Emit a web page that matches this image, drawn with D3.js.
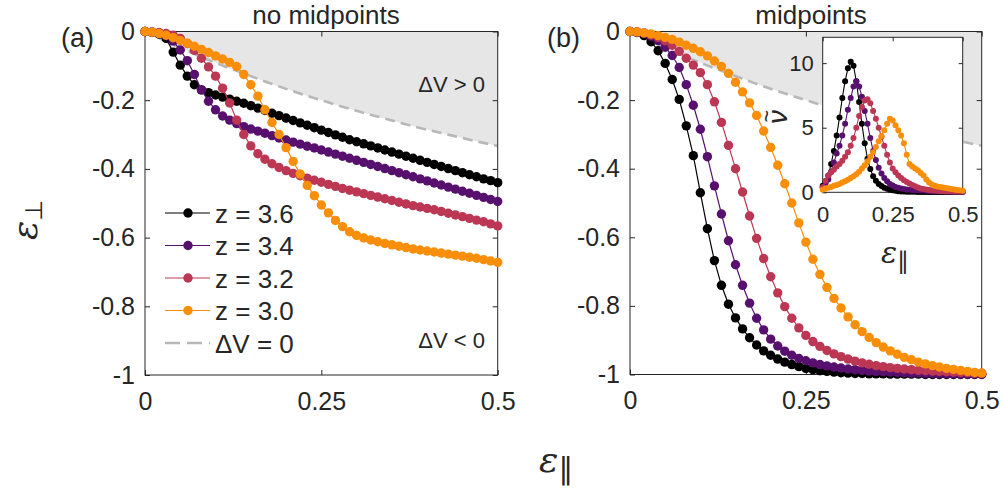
<!DOCTYPE html>
<html><head><meta charset="utf-8">
<script src="https://cdn.jsdelivr.net/npm/d3@7"></script>
<style>
body{margin:0;background:#fff}
svg{display:block}
text{font-family:"Liberation Sans",Arial,Helvetica,sans-serif;fill:#262626}
</style>
</head><body>
<svg id="c" width="1004" height="490"></svg>
<script>
// ---------- data ----------
const epsPar = [0,0.01,0.02,0.03,0.04,0.05,0.06,0.07,0.08,0.09,0.10,0.11,0.12,0.13,0.14,0.15,0.16,0.17,0.18,0.19,0.20,0.21,0.22,0.23,0.24,0.25,0.26,0.27,0.28,0.29,0.30,0.31,0.32,0.33,0.34,0.35,0.36,0.37,0.38,0.39,0.40,0.41,0.42,0.43,0.44,0.45,0.46,0.47,0.48,0.49,0.50];

const seriesLabels = ["z = 3.6","z = 3.4","z = 3.2","z = 3.0"];

// panel (a): no midpoints
const noMid36 = [0,-0.003,-0.008,-0.020,-0.060,-0.098,-0.130,-0.155,-0.170,-0.178,-0.185,-0.191,-0.197,-0.203,-0.209,-0.216,-0.223,-0.230,-0.238,-0.245,-0.252,-0.259,-0.266,-0.273,-0.280,-0.287,-0.294,-0.301,-0.308,-0.315,-0.321,-0.327,-0.333,-0.339,-0.345,-0.351,-0.357,-0.363,-0.369,-0.375,-0.381,-0.387,-0.393,-0.399,-0.405,-0.411,-0.417,-0.423,-0.429,-0.434,-0.440];
const noMid34 = [0,-0.002,-0.006,-0.013,-0.028,-0.054,-0.085,-0.125,-0.170,-0.203,-0.228,-0.246,-0.258,-0.268,-0.277,-0.284,-0.290,-0.296,-0.303,-0.310,-0.316,-0.322,-0.328,-0.334,-0.339,-0.345,-0.351,-0.357,-0.363,-0.369,-0.375,-0.381,-0.387,-0.393,-0.399,-0.405,-0.411,-0.417,-0.423,-0.429,-0.435,-0.441,-0.447,-0.453,-0.459,-0.465,-0.471,-0.477,-0.483,-0.489,-0.495];
const noMid32 = [0,-0.001,-0.003,-0.006,-0.011,-0.020,-0.035,-0.055,-0.078,-0.103,-0.130,-0.165,-0.208,-0.258,-0.300,-0.333,-0.356,-0.372,-0.385,-0.396,-0.405,-0.413,-0.420,-0.427,-0.433,-0.439,-0.445,-0.451,-0.457,-0.462,-0.467,-0.472,-0.477,-0.482,-0.487,-0.492,-0.497,-0.502,-0.507,-0.511,-0.515,-0.519,-0.524,-0.529,-0.534,-0.539,-0.544,-0.549,-0.554,-0.560,-0.566];
const noMid30 = [0,-0.002,-0.006,-0.011,-0.018,-0.026,-0.034,-0.043,-0.052,-0.061,-0.071,-0.080,-0.090,-0.102,-0.125,-0.155,-0.188,-0.228,-0.265,-0.300,-0.338,-0.378,-0.415,-0.448,-0.478,-0.505,-0.528,-0.550,-0.568,-0.583,-0.594,-0.601,-0.607,-0.612,-0.617,-0.621,-0.625,-0.629,-0.633,-0.636,-0.639,-0.642,-0.645,-0.648,-0.651,-0.654,-0.657,-0.660,-0.664,-0.668,-0.672];

// panel (b): midpoints
const mid36 = [0,-0.003,-0.012,-0.030,-0.056,-0.093,-0.140,-0.198,-0.275,-0.362,-0.470,-0.575,-0.668,-0.740,-0.795,-0.835,-0.867,-0.893,-0.914,-0.931,-0.944,-0.955,-0.964,-0.971,-0.977,-0.982,-0.986,-0.989,-0.991,-0.993,-0.995,-0.996,-0.997,-0.997,-0.998,-0.998,-0.998,-0.999,-0.999,-0.999,-0.999,-0.999,-1,-1,-1,-1,-1,-1,-1,-1,-1];
const mid34 = [0,-0.002,-0.006,-0.014,-0.027,-0.046,-0.070,-0.105,-0.155,-0.215,-0.285,-0.365,-0.450,-0.532,-0.610,-0.680,-0.740,-0.792,-0.836,-0.870,-0.897,-0.917,-0.932,-0.944,-0.953,-0.960,-0.966,-0.971,-0.975,-0.978,-0.981,-0.984,-0.986,-0.988,-0.990,-0.991,-0.992,-0.993,-0.994,-0.995,-0.996,-0.996,-0.997,-0.997,-0.998,-0.998,-0.998,-0.999,-0.999,-0.999,-0.999];
const mid32 = [0,-0.001,-0.004,-0.010,-0.017,-0.027,-0.040,-0.058,-0.078,-0.098,-0.120,-0.155,-0.205,-0.265,-0.332,-0.400,-0.468,-0.538,-0.603,-0.662,-0.715,-0.762,-0.802,-0.836,-0.864,-0.886,-0.904,-0.918,-0.930,-0.940,-0.948,-0.955,-0.961,-0.966,-0.970,-0.974,-0.977,-0.980,-0.982,-0.984,-0.986,-0.988,-0.989,-0.990,-0.991,-0.992,-0.993,-0.994,-0.995,-0.996,-0.996];
const mid30 = [0,-0.001,-0.004,-0.007,-0.012,-0.017,-0.023,-0.031,-0.040,-0.049,-0.059,-0.071,-0.086,-0.102,-0.122,-0.148,-0.176,-0.208,-0.245,-0.290,-0.338,-0.390,-0.444,-0.500,-0.558,-0.614,-0.664,-0.708,-0.746,-0.778,-0.806,-0.832,-0.855,-0.875,-0.892,-0.907,-0.920,-0.931,-0.941,-0.950,-0.957,-0.964,-0.969,-0.974,-0.978,-0.982,-0.985,-0.988,-0.991,-0.994,-0.996];

// inset: nu tilde (midpoints)
const nu36 = [0.5,0.8,1.3,2.2,3.2,4.4,5.8,7.3,8.6,9.6,10.1,9.8,8.6,7.0,5.3,3.8,2.6,1.8,1.25,0.9,0.65,0.48,0.36,0.27,0.2,0.15,0.12,0.09,0.07,0.06,0.05,0.04,0.04,0.04,0.03,0.03,0.03,0.03,0.03,0.02,0.02,0.02,0.02,0.02,0.02,0.02,0.02,0.02,0.02,0.02,0.02];
const nu34 = [0.4,0.7,1.0,1.6,2.3,3.0,3.6,4.4,5.3,6.4,7.3,8.2,8.6,8.2,7.4,6.3,5.3,4.2,3.2,2.5,1.9,1.45,1.1,0.85,0.65,0.52,0.42,0.35,0.3,0.26,0.22,0.2,0.18,0.16,0.15,0.14,0.13,0.12,0.11,0.1,0.09,0.09,0.08,0.08,0.07,0.07,0.06,0.06,0.06,0.05,0.05];
const nu32 = [0.4,0.9,1.3,1.55,1.75,2.0,2.2,2.45,2.75,3.1,3.6,4.2,5.0,5.9,6.6,7.1,7.2,6.9,6.3,5.7,5.0,4.3,3.6,2.9,2.3,1.85,1.55,1.3,1.1,0.93,0.8,0.68,0.57,0.47,0.38,0.3,0.25,0.21,0.18,0.15,0.13,0.12,0.11,0.1,0.09,0.08,0.08,0.07,0.07,0.06,0.06];
const nu30 = [0.2,0.3,0.35,0.42,0.5,0.57,0.65,0.75,0.85,0.97,1.1,1.25,1.4,1.6,1.85,2.1,2.4,2.75,3.1,3.5,3.95,4.35,4.8,5.3,5.7,5.55,5.2,4.8,4.4,3.8,2.9,2.2,2.0,1.85,1.7,1.5,1.3,1.0,0.75,0.6,0.5,0.45,0.42,0.38,0.34,0.3,0.26,0.22,0.18,0.15,0.12];

// Delta V = 0 boundary
const bndX = [0,0.025,0.05,0.075,0.1,0.125,0.15,0.175,0.2,0.225,0.25,0.275,0.3,0.325,0.35,0.375,0.4,0.425,0.45,0.475,0.5];
const bndY = [0,-0.024,-0.048,-0.070,-0.091,-0.111,-0.130,-0.149,-0.167,-0.184,-0.200,-0.216,-0.231,-0.245,-0.259,-0.273,-0.286,-0.298,-0.310,-0.322,-0.333];

// ticks
const xTicks = [0,0.25,0.5], xTickLabels = ["0","0.25","0.5"];
const yTicks = [0,-0.2,-0.4,-0.6,-0.8,-1], yTickLabels = ["0","-0.2","-0.4","-0.6","-0.8","-1"];
const insYTicks = [0,5,10], insYTickLabels = ["0","5","10"];

const colors = ["#000000","#57106e","#bc3754","#f98e09"];

// ---------- drawing ----------
const svg = d3.select("#c");
const AX = "#262626";

function axes(x, y, xt, xl, yt, yl, fs, tick, padX, padY) {
  const g = svg.append("g");
  const [x0,x1] = x.range(), [yb,yt0] = y.range();
  const style = s => { s.attr("font-size", fs).attr("font-family", '"Liberation Sans",Arial,sans-serif').attr("color", AX);
    s.select(".domain").remove(); s.selectAll(".tick line").attr("stroke-width", 1); };
  g.append("g").attr("transform", `translate(0,${yb})`)
    .call(d3.axisBottom(x).tickValues(xt).tickFormat((d,i)=>xl[i]).tickSize(-tick).tickPadding(padX)).call(style);
  g.append("g").attr("transform", `translate(0,${yt0})`)
    .call(d3.axisTop(x).tickValues(xt).tickFormat("").tickSize(-tick)).call(style);
  g.append("g").attr("transform", `translate(${x0},0)`)
    .call(d3.axisLeft(y).tickValues(yt).tickFormat((d,i)=>yl[i]).tickSize(-tick).tickPadding(padY)).call(style);
  g.append("g").attr("transform", `translate(${x1},0)`)
    .call(d3.axisRight(y).tickValues(yt).tickFormat("").tickSize(-tick)).call(style);
  g.append("rect").attr("x", x0).attr("y", yt0).attr("width", x1-x0).attr("height", yb-yt0)
    .attr("fill","none").attr("stroke", AX).attr("stroke-width", 1);
}

function shading(x, y) {
  const pts = bndX.map((v,i)=>[v, bndY[i]]);
  svg.append("path").datum(pts)
    .attr("d", d3.area().x(d=>x(d[0])).y0(y(0)).y1(d=>y(d[1])).curve(d3.curveMonotoneX))
    .attr("fill", "#e6e6e6");
  svg.append("path").datum(pts)
    .attr("d", d3.line().x(d=>x(d[0])).y(d=>y(d[1])).curve(d3.curveMonotoneX))
    .attr("fill","none").attr("stroke","#b8b8b8").attr("stroke-width",2.6).attr("stroke-dasharray","10,6");
}

function series(x, y, arrs, r, lw) {
  arrs.forEach((arr, k) => {
    const pts = epsPar.map((v,i)=>[v, arr[i]]);
    const g = svg.append("g");
    g.append("path").datum(pts).attr("d", d3.line().x(d=>x(d[0])).y(d=>y(d[1])))
      .attr("fill","none").attr("stroke", colors[k]).attr("stroke-width", lw);
    g.selectAll("circle").data(pts).join("circle")
      .attr("cx", d=>x(d[0])).attr("cy", d=>y(d[1])).attr("r", r).attr("fill", colors[k]);
  });
}

// Panel (a)
const xA = d3.scaleLinear().domain([0,0.5]).range([145,497.7]);
const yA = d3.scaleLinear().domain([-1,0]).range([375,31.5]);
shading(xA, yA);
axes(xA, yA, xTicks, xTickLabels, yTicks, yTickLabels, 25, 5, 17, 10);
series(xA, yA, [noMid36, noMid34, noMid32, noMid30], 4.7, 1.2);

// Panel (b)
const xB = d3.scaleLinear().domain([0,0.5]).range([630,981.7]);
const yB = d3.scaleLinear().domain([-1,0]).range([374.5,31.5]);
shading(xB, yB);
axes(xB, yB, xTicks, xTickLabels, yTicks, yTickLabels, 25, 5, 17, 10);
series(xB, yB, [mid36, mid34, mid32, mid30], 4.7, 1.2);

// Inset
const xI = d3.scaleLinear().domain([0,0.5]).range([822.7,962.7]);
const yI = d3.scaleLinear().domain([0,12]).range([192.3,37.3]);
svg.append("rect").attr("x",822.7).attr("y",37.3).attr("width",140).attr("height",155).attr("fill","#fff");
axes(xI, yI, xTicks, xTickLabels, insYTicks, insYTickLabels, 22, 4, 14, 9);
series(xI, yI, [nu36, nu34, nu32, nu30], 3.0, 1.1);

// Titles and panel labels
svg.append("text").attr("x",326).attr("y",24).attr("text-anchor","middle").attr("font-size",26).text("no midpoints");
svg.append("text").attr("x",811).attr("y",24).attr("text-anchor","middle").attr("font-size",26).text("midpoints");
svg.append("text").attr("x",61).attr("y",47).attr("font-size",27).text("(a)");
svg.append("text").attr("x",547).attr("y",47).attr("font-size",27).text("(b)");
svg.append("text").attr("x",485).attr("y",92).attr("text-anchor","end").attr("font-size",22).text("ΔV > 0");
svg.append("text").attr("x",485).attr("y",348).attr("text-anchor","end").attr("font-size",22).text("ΔV < 0");

// Legend
const legY = d3.scaleLinear().domain([0,4]).range([213,343]);
seriesLabels.forEach((lab,k)=>{
  const yy = legY(k);
  svg.append("line").attr("x1",165).attr("x2",210).attr("y1",yy).attr("y2",yy).attr("stroke",colors[k]).attr("stroke-width",1.2);
  svg.append("circle").attr("cx",188).attr("cy",yy).attr("r",4.7).attr("fill",colors[k]);
  svg.append("text").attr("x",215).attr("y",yy+9.5).attr("font-size",26).text(lab);
});
{
  const yy = legY(4);
  svg.append("line").attr("x1",165).attr("x2",210).attr("y1",yy).attr("y2",yy).attr("stroke","#b8b8b8").attr("stroke-width",2.6).attr("stroke-dasharray","15,7");
  svg.append("text").attr("x",215).attr("y",yy+9.5).attr("font-size",26).text("ΔV = 0");
}

// Axis labels
const xl = svg.append("text").attr("x",539).attr("y",472);
xl.append("tspan").attr("font-family","DejaVu Serif").attr("font-style","italic").attr("font-size",36).text("ε");
xl.append("tspan").attr("font-family","DejaVu Sans").attr("font-size",30).attr("dy",7).text("∥");

const yl = svg.append("text").attr("transform","translate(37,220) rotate(-90)").attr("text-anchor","middle");
yl.append("tspan").attr("font-family","DejaVu Serif").attr("font-style","italic").attr("font-size",36).text("ε");
yl.append("tspan").attr("font-family","DejaVu Sans").attr("font-size",24).attr("dy",5).text("⊥");

const ixl = svg.append("text").attr("x",881).attr("y",263);
ixl.append("tspan").attr("font-family","DejaVu Serif").attr("font-style","italic").attr("font-size",30).text("ε");
ixl.append("tspan").attr("font-family","DejaVu Sans").attr("font-size",24).attr("dy",6).text("∥");

const nuG = svg.append("g").attr("transform","translate(787,117) rotate(-90)");
nuG.append("text").attr("text-anchor","middle").attr("font-family","DejaVu Serif").attr("font-style","italic").attr("font-size",28).text("ν");
nuG.append("text").attr("x",1).attr("y",-13).attr("text-anchor","middle").attr("font-family","DejaVu Serif").attr("font-size",22).text("~");
</script>
</body></html>
